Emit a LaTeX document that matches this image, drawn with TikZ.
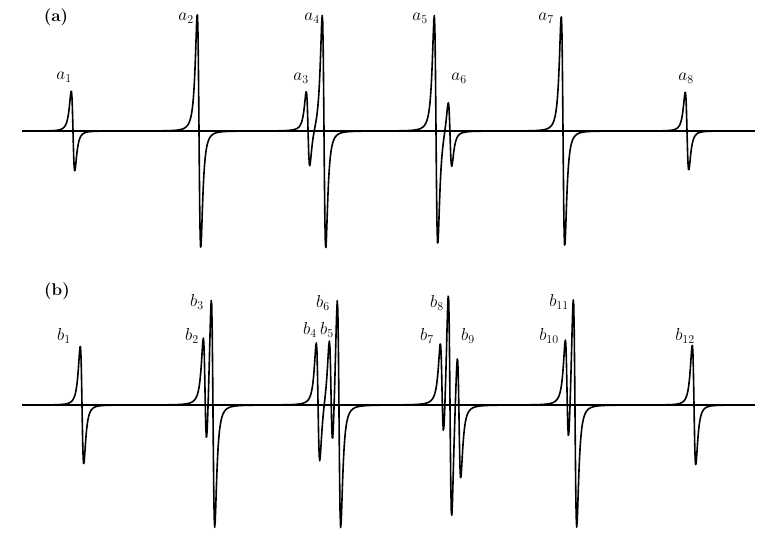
\documentclass[tikz,border=0pt]{standalone}
\tikzset{lbl/.style={font=\fontsize{17}{20}\selectfont,inner sep=0pt},
 tag/.style={font=\bfseries\fontsize{17}{20}\selectfont,inner sep=0pt},
 spec/.style={line width=1.6pt,line join=round}}
\newcommand\lz[3]{+(#2)*ld((\x-#1)/#3)}
\newcommand\grp[4]{\draw[spec] plot[domain=#2:#3,samples=180] (\x,{#1-(0#4)});}
\begin{document}
\begin{tikzpicture}[x=1pt,y=-1pt,
 declare function={cl(\u)=max(-60,min(60,\u)); ld(\u)=-2*cl(\u)/(1+cl(\u)^2)/(1+cl(\u)^2)/0.6495;}]
\useasboundingbox (0,0) rectangle (768,542);
\coordinate (la) at (22,131); \coordinate (ra) at (755,131);
\coordinate (lb) at (22,405); \coordinate (rb) at (755,405);
\draw[spec] (la) -- (ra);
\draw[spec] (lb) -- (rb);
\grp{131}{33}{113}{\lz{73}{40}{3}}
\grp{131}{159}{239}{\lz{199}{117}{3}}
\grp{131}{268}{364}{\lz{308}{38}{3}\lz{324}{117}{3}}
\grp{131}{396}{490}{\lz{436}{115}{3}\lz{450}{33}{3}}
\grp{131}{523}{603}{\lz{563}{115}{3}}
\grp{131}{647}{727}{\lz{687}{39}{3}}
\grp{405}{42}{122}{\lz{82}{59}{3}}
\grp{405}{165}{253}{\lz{205}{58}{3}\lz{213}{118}{3}}
\grp{405}{278}{379}{\lz{318}{60}{3}\lz{331}{58}{3}\lz{339}{118}{3}}
\grp{405}{402}{498}{\lz{442}{52}{3}\lz{450}{118}{3}\lz{459}{66}{3}}
\grp{405}{527}{615}{\lz{567}{56}{3}\lz{575}{118}{3}}
\grp{405}{654}{734}{\lz{694}{60}{3}}
\node[tag] (ta) at (56,17) {(a)};
\node[tag] (tb) at (57,291) {(b)};
\node[lbl] (a1) at (64,77) {$a_1$};
\node[lbl] (a2) at (186,18) {$a_2$};
\node[lbl] (a3) at (301,78) {$a_3$};
\node[lbl] (a4) at (312,18) {$a_4$};
\node[lbl] (a5) at (420,18) {$a_5$};
\node[lbl] (a6) at (459,78) {$a_6$};
\node[lbl] (a7) at (546,18) {$a_7$};
\node[lbl] (a8) at (686,78) {$a_8$};
\node[lbl] (b1) at (64,336) {$b_1$};
\node[lbl] (b2) at (192,336) {$b_2$};
\node[lbl] (b3) at (197,302) {$b_3$};
\node[lbl] (b4) at (310,330) {$b_4$};
\node[lbl] (b5) at (327,330) {$b_5$};
\node[lbl] (b6) at (323,303) {$b_6$};
\node[lbl] (b7) at (427,336) {$b_7$};
\node[lbl] (b8) at (437,303) {$b_8$};
\node[lbl] (b9) at (468,336) {$b_9$};
\node[lbl] (b10) at (549,336) {$b_{10}$};
\node[lbl] (b11) at (559,302) {$b_{11}$};
\node[lbl] (b12) at (685,336) {$b_{12}$};
\end{tikzpicture}
\end{document}
